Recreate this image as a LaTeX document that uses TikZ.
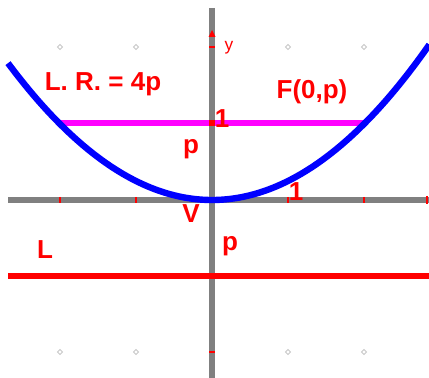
\documentclass[tikz,border=0pt]{standalone}
\usepackage{fontspec}
\setmainfont{Liberation Sans}
\definecolor{pred}{RGB}{255,0,0}
\definecolor{pblue}{RGB}{0,0,255}
\definecolor{pmag}{RGB}{255,0,255}
\definecolor{pgray}{RGB}{128,128,128}
\definecolor{pdot}{RGB}{200,200,200}
\begin{document}
\begin{tikzpicture}[x=0.75pt,y=-0.75pt,
  axisline/.style={draw=pgray,line width=4.2pt},
  lbl/.style={text=pred,font=\fontsize{19.5}{21}\selectfont\bfseries,inner sep=0pt},
  griddot/.style={draw=pdot,fill=white,line width=0.7pt,diamond,inner sep=0pt,minimum size=4.5pt},
  redtick/.style={draw=pred,line width=1.2pt}]
\useasboundingbox[fill=white] (0,0) rectangle (429,378);
% grid dots
\foreach \gx in {60,136,288,364}{
  \draw[pdot,line width=0.7pt] (\gx,44.5) -- (\gx+2.5,47) -- (\gx,49.5) -- (\gx-2.5,47) -- cycle;
  \draw[pdot,line width=0.7pt] (\gx,349.5) -- (\gx+2.5,352) -- (\gx,354.5) -- (\gx-2.5,352) -- cycle;
}
% axes
\coordinate (xl) at (8,200); \coordinate (xr) at (429,200);
\coordinate (yt) at (212,8); \coordinate (yb) at (212,378);
\draw[axisline] (xl) -- (xr);
\draw[axisline] (yt) -- (yb);
% directrix
\coordinate (dl) at (8,276); \coordinate (dr) at (429,276);
\draw[pred,line width=4.5pt] (dl) -- (dr);
% latus rectum
\coordinate (lrl) at (60,123); \coordinate (lrr) at (364,123);
\draw[pmag,line width=4.5pt] (lrl) -- (lrr);
% parabola
\draw[pblue,line width=4.8pt] plot[domain=-2.684:2.86,samples=80,smooth] ({212+76*\x},{200-19*\x*\x});
% focus
\node[fill=pred,minimum size=4pt,inner sep=0pt] (F) at (212,123) {};
% ticks
\foreach \gx in {60,136,288,364}{ \draw[redtick] (\gx,197) -- (\gx,203); }
\draw[redtick] (209,47) -- (215,47);
\draw[redtick] (209,352) -- (215,352);
\fill[pred] (212,30) -- (208.5,37) -- (215.5,37) -- cycle;
\draw[pred,line width=1.5pt] (427,196) -- (427,204);
% labels
\node[lbl] (lr) at (103,84) {L. R. = 4p};
\node[lbl] (fl) at (312,92) {F(0,p)};
\node[lbl] (one1) at (222,119) {1};
\node[lbl] (p1) at (191,149) {p};
\node[lbl] (one2) at (296,192) {1};
\node[lbl] (V) at (191,214) {V};
\node[lbl] (p2) at (230,246) {p};
\node[lbl] (L) at (45,250) {L};
\node[text=pred,font=\fontsize{13}{14}\selectfont,inner sep=0pt] (yl) at (229,48) {y};
\end{tikzpicture}
\end{document}
